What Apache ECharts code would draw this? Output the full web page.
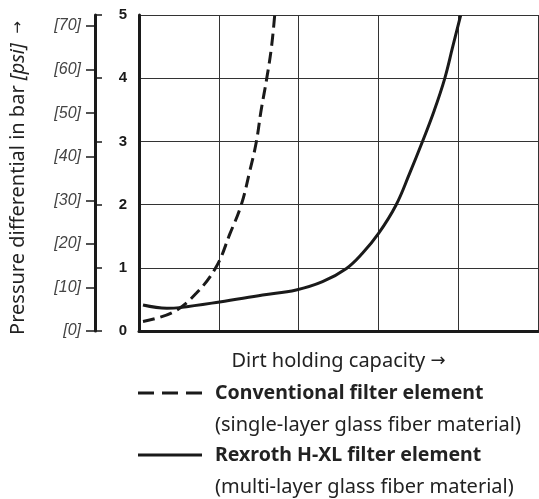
<!DOCTYPE html>
<html><head><meta charset="utf-8">
<script src="https://cdn.jsdelivr.net/npm/echarts@6/dist/echarts.min.js"></script>
<style>html,body{margin:0;padding:0;background:#fff}#c{width:539px;height:499px}</style>
</head><body><div id="c"></div>
<script>
// x = dirt holding capacity (grid units), y = pressure differential in bar
const conventional = [[0.05,0.15],[0.43,0.30],[0.72,0.60],[0.97,1.02],[1.14,1.54],[1.28,1.99],[1.39,2.54],[1.47,2.99],[1.53,3.49],[1.60,3.99],[1.66,4.49],[1.70,4.99]];
const hxl = [[0.05,0.41],[0.35,0.36],[0.51,0.37],[1.01,0.46],[1.55,0.57],[1.97,0.65],[2.30,0.78],[2.60,0.99],[2.80,1.23],[3.00,1.54],[3.22,1.99],[3.39,2.49],[3.55,2.99],[3.70,3.49],[3.83,3.99],[3.93,4.49],[4.03,4.99]];
const barTicks = [0,1,2,3,4,5];
const psiTicks = [0,10,20,30,40,50,60,70];
const BAR_TO_PSI = 14.5038;
const seriesNames = ['Conventional filter element','Rexroth H-XL filter element'];
const seriesNotes = ['(single-layer glass fiber material)','(multi-layer glass fiber material)'];
const xTitle = 'Dirt holding capacity ';
const arrow = '\u2192';

const chart = echarts.init(document.getElementById('c'));
const ink = '#1a1a1a';
const font = 'Noto Sans';
const fs = 20;
const fsb = 19.5;
chart.setOption({
  animation:false,
  grid:{left:139,right:1,top:15,bottom:168},
  xAxis:{type:'value',min:0,max:5,interval:1,
    axisLine:{show:true,lineStyle:{color:ink,width:3}},
    axisTick:{show:false},axisLabel:{show:false},
    splitLine:{show:true,lineStyle:{color:'#333',width:1}},
    name:'{r|'+xTitle+'}{a|'+arrow+'}',nameLocation:'middle',nameGap:30,
    nameTextStyle:{verticalAlign:'middle',rich:{
      r:{fontFamily:font,fontSize:fs,color:'#222'},
      a:{fontFamily:'DejaVu Sans',fontSize:18,color:'#222'}}}},
  yAxis:[
    {type:'value',min:0,max:5,interval:1,position:'left',
      axisLine:{show:true,lineStyle:{color:ink,width:3}},
      axisTick:{show:false},
      axisLabel:{fontFamily:'Liberation Sans',fontWeight:'bold',fontSize:15,color:ink,margin:12},
      splitLine:{show:true,lineStyle:{color:'#333',width:1}}},
    {type:'value',min:0,max:5*BAR_TO_PSI,interval:10,position:'left',offset:44,
      axisLine:{show:true,lineStyle:{color:ink,width:3}},
      axisTick:{show:true,length:9,lineStyle:{color:ink,width:1.5},customValues:psiTicks},
      axisLabel:{fontFamily:'Liberation Sans',fontStyle:'italic',fontSize:16,color:'#444',margin:14,
        customValues:psiTicks,formatter:v=>v>70.5?'':'['+v+']'},
      splitLine:{show:false}},
    {type:'value',min:0,max:5,interval:1,position:'left',offset:44,
      axisLine:{show:false},
      axisTick:{show:true,inside:true,length:7,lineStyle:{color:ink,width:1.5},customValues:barTicks},
      axisLabel:{show:false},splitLine:{show:false}}
  ],
  series:[
    {name:seriesNames[0],type:'line',data:conventional,smooth:0.4,showSymbol:false,yAxisIndex:0,
      lineStyle:{color:ink,width:3,type:[12,6]}},
    {name:seriesNames[1],type:'line',data:hxl,smooth:0.4,showSymbol:false,yAxisIndex:0,
      lineStyle:{color:ink,width:3}}
  ],
  graphic:[
    {type:'text',x:18,y:178,rotation:Math.PI/2,
      style:{text:'{r|Pressure differential in bar }{i|[psi]}{a|  '+arrow+'}',align:'center',verticalAlign:'middle',
        rich:{r:{fontFamily:font,fontSize:fs,fill:'#222'},i:{fontFamily:font,fontSize:fs,fontStyle:'italic',fill:'#222'},
          a:{fontFamily:'DejaVu Sans',fontSize:15,fill:'#222'}}}},
    {type:'line',shape:{x1:138,y1:393,x2:202,y2:393},style:{stroke:ink,lineWidth:3,lineDash:[16,8]}},
    {type:'text',x:215,y:393,style:{text:seriesNames[0],fontFamily:font,fontWeight:'bold',fontSize:fsb,fill:'#222',verticalAlign:'middle'}},
    {type:'text',x:215,y:425,style:{text:seriesNotes[0],fontFamily:font,fontSize:fs,fill:'#222',verticalAlign:'middle'}},
    {type:'line',shape:{x1:138,y1:455,x2:202,y2:455},style:{stroke:ink,lineWidth:3}},
    {type:'text',x:215,y:455,style:{text:seriesNames[1],fontFamily:font,fontWeight:'bold',fontSize:fsb,fill:'#222',verticalAlign:'middle'}},
    {type:'text',x:215,y:487,style:{text:seriesNotes[1],fontFamily:font,fontSize:fs,fill:'#222',verticalAlign:'middle'}}
  ]
});
</script></body></html>
